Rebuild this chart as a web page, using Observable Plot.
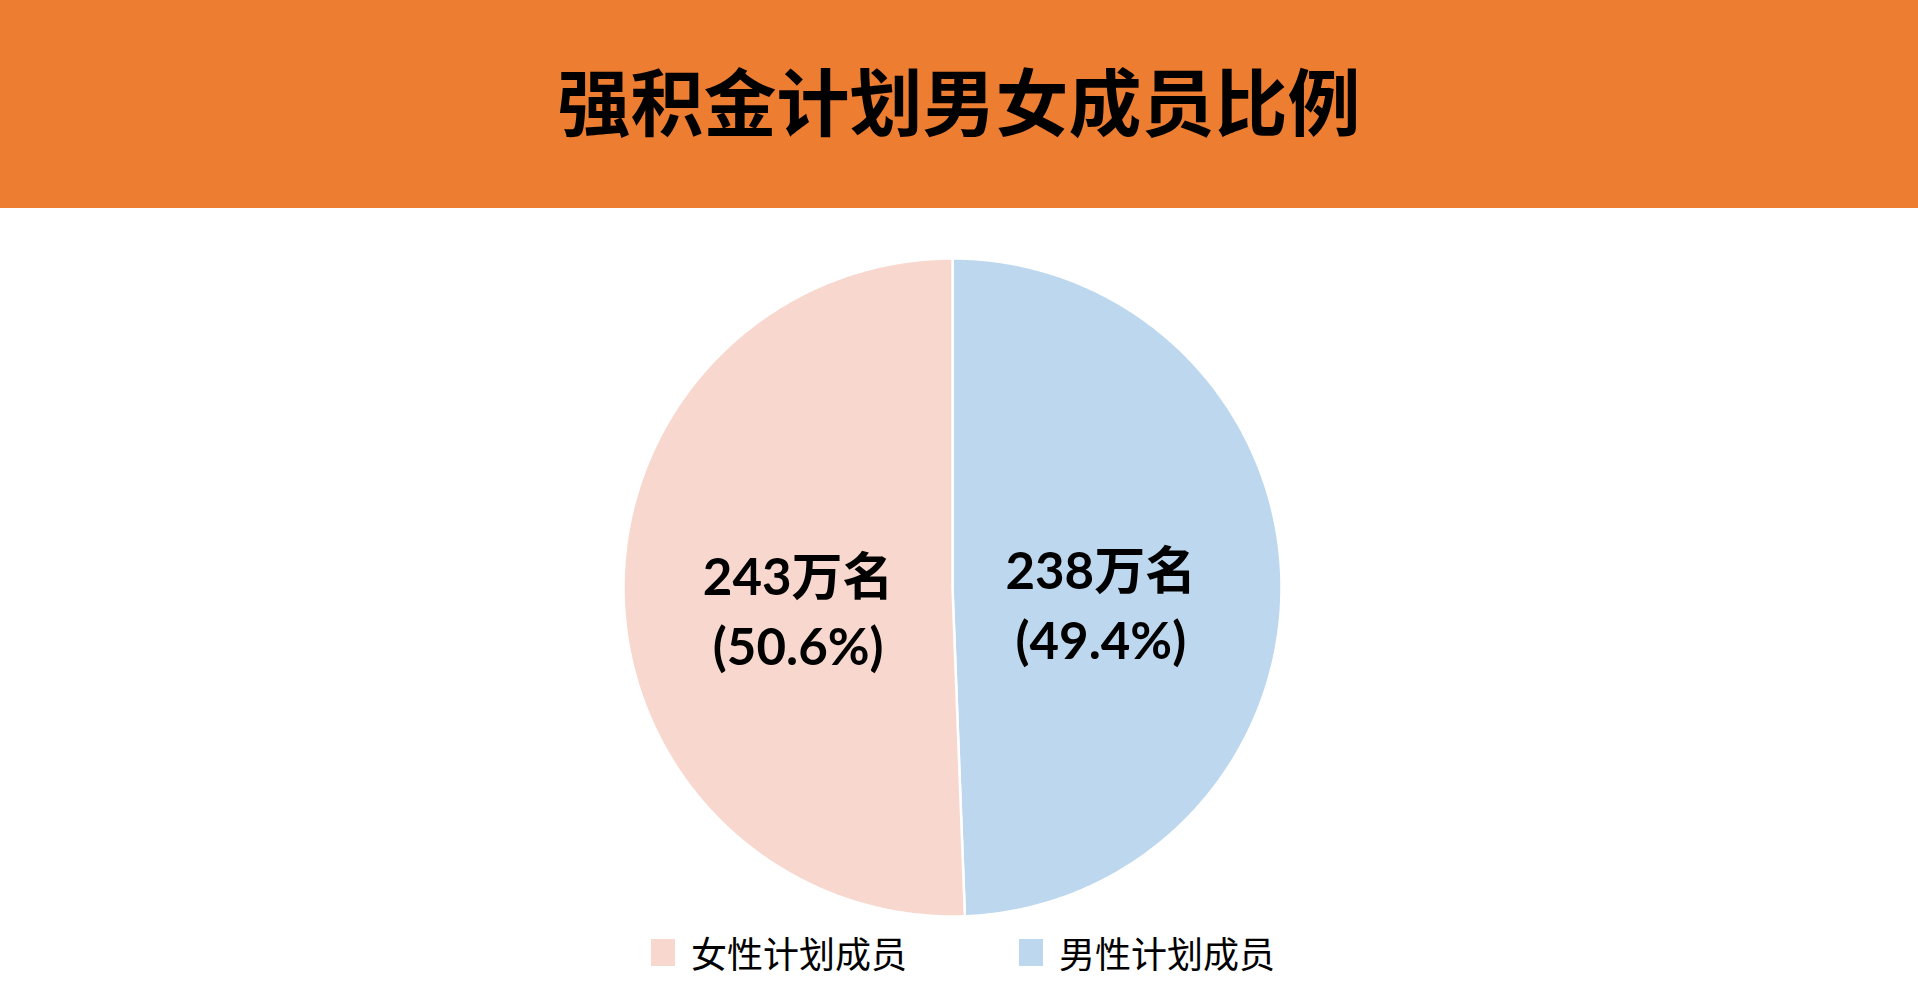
<!DOCTYPE html>
<html lang="zh-CN">
<head>
<meta charset="utf-8">
<script src="https://cdn.jsdelivr.net/npm/d3@7"></script>
<script src="https://cdn.jsdelivr.net/npm/@observablehq/plot@0.6"></script>
<style>
  html, body { margin: 0; padding: 0; background: #fff; }
  #header {
    height: 208px; background: #ED7D31;
    display: flex; align-items: center; justify-content: center;
  }
  #header h1 {
    margin: 0 0 12px 0; font-family: "Noto Sans CJK SC", sans-serif; font-weight: 700;
    font-size: 73px; line-height: 1; color: #000;
  }
  #chart { display: block; }
  #legend { display: flex; justify-content: center; margin-top: -12px; margin-left: 8px; }
  .gl-swatches { font-family: "Noto Sans CJK SC", sans-serif; font-size: 36px; color: #000; margin: 0; }
  .gl-swatch { margin-right: 112px; }
  .gl-swatch:last-child { margin-right: 0; }
  .gl-swatch > svg { margin-right: 16px; }
</style>
</head>
<body>
<div id="header"><h1>强积金计划男女成员比例</h1></div>
<div id="chart"></div>
<div id="legend"></div>
<script>
// Members by gender (万名) and their share of all members (%)
const groups = ["男性计划成员", "女性计划成员"];
const members = [238, 243];
const shares = [49.4, 50.6];
const legendOrder = ["女性计划成员", "男性计划成员"];
const groupColors = ["#F8D8CE", "#BDD7EE"];

// Slice angles, clockwise from 12 o'clock, in the order given above
const pie = d3.pie().sort(null).value(d => d.share)(
  groups.map((name, i) => ({name, members: members[i], share: shares[i]}))
);

// Each slice as a closed polygon on the unit circle: centre, arc, back to centre
const slicePoints = pie.flatMap(s => {
  const n = Math.max(2, Math.ceil((s.endAngle - s.startAngle) / (Math.PI / 360)));
  const pts = [{name: s.data.name, x: 0, y: 0}];
  for (let k = 0; k <= n; k++) {
    const a = s.startAngle + (s.endAngle - s.startAngle) * k / n;
    pts.push({name: s.data.name, x: Math.sin(a), y: Math.cos(a)});
  }
  return pts;
});

// Value labels sit inside each slice on its middle angle
const labelRadius = 0.46;
const labels = pie.map(s => {
  const a = (s.startAngle + s.endAngle) / 2;
  return {
    x: labelRadius * Math.sin(a),
    y: labelRadius * Math.cos(a),
    text: `${s.data.members}万名\n(${s.data.share.toFixed(1)}%)`
  };
});

const plot = Plot.plot({
  width: 1918,
  height: 730,
  marginTop: 50,
  marginBottom: 22,
  marginLeft: 623,
  marginRight: 637,
  x: {domain: [-1, 1], axis: null},
  y: {domain: [-1, 1], axis: null},
  color: {domain: legendOrder, range: groupColors},
  marks: [
    Plot.line(slicePoints, {
      x: "x", y: "y", z: "name", fill: "name",
      stroke: "white", strokeWidth: 2.5, strokeLinejoin: "round",
      curve: "linear-closed"
    }),
    Plot.text(labels, {
      x: "x", y: "y", text: "text", dx: -3, dy: 17,
      fontSize: 51, fontWeight: 700, lineHeight: 1.38,
      fontFamily: "Lato, 'Noto Sans CJK SC', sans-serif", fill: "#000"
    })
  ]
});
document.getElementById("chart").append(plot);

const legend = Plot.legend({
  color: {type: "ordinal", domain: legendOrder, range: groupColors},
  legend: "swatches",
  swatchWidth: 24,
  swatchHeight: 27,
  className: "gl"
});
document.getElementById("legend").append(legend);
</script>
</body>
</html>
